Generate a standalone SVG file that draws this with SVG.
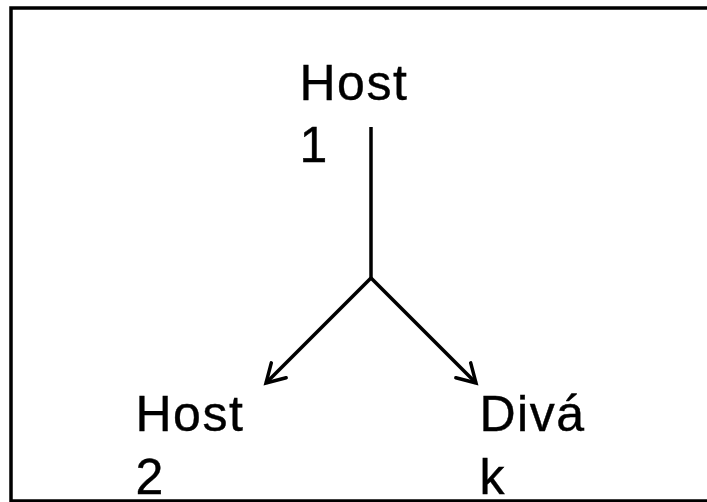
<svg xmlns="http://www.w3.org/2000/svg" width="707" height="502" viewBox="0 0 707 502">
<style>
.lbl{font-family:"Liberation Sans",Arial,sans-serif;font-size:50px;letter-spacing:1.5px;fill:#000;stroke:#000;stroke-width:0.4}
.edge{fill:none;stroke:#000;stroke-width:3.5}
</style>
<defs>
<marker id="arr" markerUnits="userSpaceOnUse" viewBox="-22 -14 26 28" refX="0" refY="0" markerWidth="26" markerHeight="28" orient="auto">
<path d="M-18,-10.5 L0,0 L-18,10.5" fill="none" stroke="#000" stroke-width="3.5" stroke-linecap="round" stroke-linejoin="miter"/>
</marker>
</defs>
<rect x="0" y="0" width="707" height="502" fill="#fff"/>
<rect x="11" y="8" width="720" height="493" fill="none" stroke="#000" stroke-width="3.5"/>
<g id="connectors">
<path class="edge" d="M371,127 L371,278"/>
<path class="edge" d="M371,278 L266,383" marker-end="url(#arr)"/>
<path class="edge" d="M371,278 L476,383" marker-end="url(#arr)"/>
</g>
<g id="host1"><text class="lbl" x="299.5" y="100">Host</text><text class="lbl" x="299.5" y="162">1</text></g>
<g id="host2"><text class="lbl" x="135.5" y="431">Host</text><text class="lbl" x="135.5" y="494">2</text></g>
<g id="divak"><text class="lbl" x="479.5" y="431">Divá</text><text class="lbl" x="479.5" y="494">k</text></g>
</svg>
